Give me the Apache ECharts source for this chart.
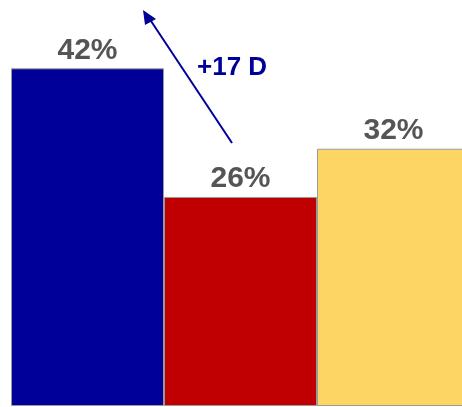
<!DOCTYPE html>
<html>
<head>
<meta charset="utf-8">
<script src="https://cdn.jsdelivr.net/npm/echarts@6/dist/echarts.min.js"></script>
<style>html,body{margin:0;padding:0;background:#fff}#c{width:462px;height:407px}</style>
</head>
<body>
<div id="c"></div>
<script>
const categories = ['A', 'B', 'C'];
const values = [42, 26, 32];
const barColors = ['#000099', '#C00000', '#FDD565'];
const annotationText = '+17 D';

const chart = echarts.init(document.getElementById('c'));
chart.setOption({
  animation: false,
  grid: { left: 11, width: 459, top: 4, bottom: 1, outerBoundsMode: 'none', containLabel: false },
  xAxis: { type: 'category', data: categories, show: false },
  yAxis: { type: 'value', min: 0, max: 50, show: false },
  series: [{
    type: 'bar',
    barCategoryGap: '0%',
    data: values.map((v, i) => ({ value: v, itemStyle: { color: barColors[i] } })),
    itemStyle: { borderColor: '#9a9a9a', borderWidth: 1 },
    label: {
      show: true, position: 'top', distance: 3,
      formatter: p => p.value + '%',
      fontFamily: 'Liberation Sans, Arial, sans-serif',
      fontWeight: 'bold', fontSize: 30, color: '#555555'
    }
  }],
  graphic: [
    {
      type: 'line',
      shape: { x1: 232, y1: 143, x2: 147, y2: 15 },
      style: { stroke: '#000099', lineWidth: 2 }
    },
    {
      type: 'polygon',
      shape: { points: [[143, 10], [156, 19], [145, 25]] },
      style: { fill: '#000099' }
    },
    {
      type: 'text',
      left: 197, top: 55,
      style: {
        text: annotationText,
        font: 'bold 26px "Liberation Sans", Arial, sans-serif',
        fill: '#000099'
      }
    }
  ]
});
</script>
</body>
</html>
